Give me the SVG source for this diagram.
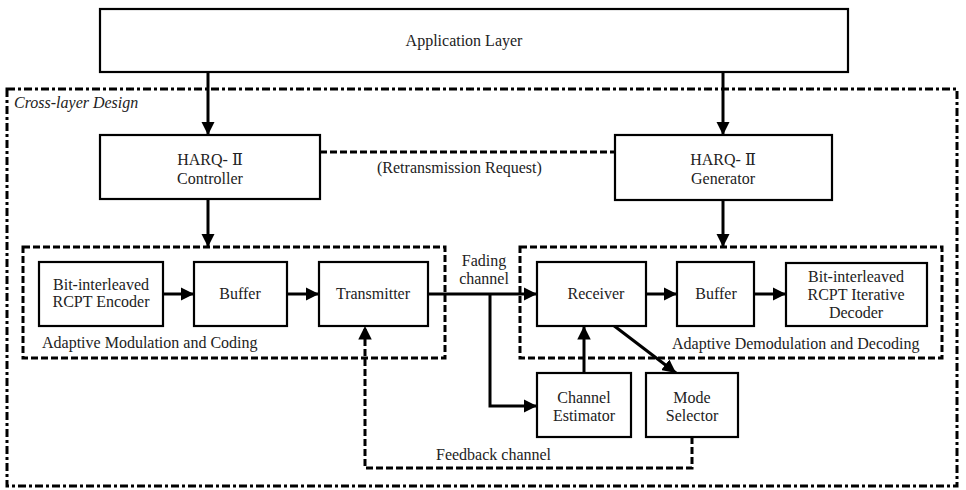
<svg xmlns="http://www.w3.org/2000/svg" width="966" height="490" viewBox="0 0 966 490">
<style>
.box{fill:#fff;stroke:#000;stroke-width:2.2}
.t,.tl{font-family:'Liberation Serif','Times New Roman','DejaVu Serif',serif;font-size:16px;fill:#222}
.t{text-anchor:middle}
.c{fill:none;stroke:#000;stroke-width:3}
.d{fill:none;stroke:#000;stroke-width:3;stroke-dasharray:7,3}
.dd{fill:none;stroke:#000;stroke-width:3;stroke-dasharray:8,3,3,3}
</style>
<defs>
<marker id="ah" viewBox="0 0 10 10" refX="10" refY="5" markerWidth="4.5" markerHeight="4.5" markerUnits="strokeWidth" orient="auto">
<path d="M0,0 L10,5 L0,10 z" fill="#000"/>
</marker>
</defs>
<g id="cross-layer">
<rect x="7" y="89" width="950" height="397" class="dd"/>
<text x="14" y="108" class="tl" font-style="italic">Cross-layer Design</text>
</g>
<g id="amc">
<rect x="23" y="247" width="422" height="111" class="d"/>
<text x="42" y="348" class="tl">Adaptive Modulation and Coding</text>
</g>
<g id="add">
<rect x="520" y="247" width="422" height="111" class="d"/>
<text x="672" y="349" class="tl">Adaptive Demodulation and Decoding</text>
</g>
<g id="connectors">
<line x1="208" y1="72" x2="208" y2="135" class="c" marker-end="url(#ah)"/>
<line x1="723" y1="72" x2="723" y2="135" class="c" marker-end="url(#ah)"/>
<line x1="208" y1="199" x2="208" y2="247" class="c" marker-end="url(#ah)"/>
<line x1="723" y1="200" x2="723" y2="247" class="c" marker-end="url(#ah)"/>
<line x1="320" y1="152" x2="615" y2="152" class="d"/>
<line x1="163" y1="294" x2="194" y2="294" class="c" marker-end="url(#ah)"/>
<line x1="287" y1="294" x2="319" y2="294" class="c" marker-end="url(#ah)"/>
<line x1="428" y1="294" x2="537" y2="294" class="c" marker-end="url(#ah)"/>
<line x1="646" y1="294" x2="677" y2="294" class="c" marker-end="url(#ah)"/>
<line x1="754" y1="294" x2="786" y2="294" class="c" marker-end="url(#ah)"/>
<polyline points="490,294 490,406 537,406" class="c" marker-end="url(#ah)"/>
<line x1="584" y1="373" x2="584" y2="326" class="c" marker-end="url(#ah)"/>
<line x1="613" y1="325" x2="676" y2="373" class="c" marker-end="url(#ah)"/>
<polyline points="692,437 692,468 365,468 365,326" class="d" marker-end="url(#ah)"/>
<text x="377" y="173" class="tl">(Retransmission Request)</text>
<text x="484" y="266" class="t">Fading</text>
<text x="484" y="284" class="t">channel</text>
<text x="436" y="460" class="tl">Feedback channel</text>
</g>
<g id="app-layer">
<rect x="100" y="9" width="748" height="63" class="box"/>
<text x="464" y="46" class="t">Application Layer</text>
</g>
<g id="harq-controller">
<rect x="100" y="135" width="220" height="64" class="box"/>
<text x="210" y="165" class="t">HARQ- Ⅱ</text>
<text x="210" y="184" class="t">Controller</text>
</g>
<g id="harq-generator">
<rect x="615" y="135" width="217" height="65" class="box"/>
<text x="723" y="165" class="t">HARQ- Ⅱ</text>
<text x="723" y="184" class="t">Generator</text>
</g>
<g id="encoder">
<rect x="39" y="262" width="124" height="64" class="box"/>
<text x="101" y="290" class="t">Bit-interleaved</text>
<text x="101" y="307" class="t">RCPT Encoder</text>
</g>
<g id="buffer-tx">
<rect x="194" y="262" width="93" height="64" class="box"/>
<text x="240" y="299" class="t">Buffer</text>
</g>
<g id="transmitter">
<rect x="319" y="262" width="109" height="64" class="box"/>
<text x="373" y="299" class="t">Transmitter</text>
</g>
<g id="receiver">
<rect x="537" y="262" width="109" height="64" class="box"/>
<text x="596" y="299" class="t">Receiver</text>
</g>
<g id="buffer-rx">
<rect x="677" y="262" width="77" height="64" class="box"/>
<text x="716" y="299" class="t">Buffer</text>
</g>
<g id="decoder">
<rect x="786" y="263" width="141" height="63" class="box"/>
<text x="856" y="282" class="t">Bit-interleaved</text>
<text x="856" y="300" class="t">RCPT Iterative</text>
<text x="856" y="318" class="t">Decoder</text>
</g>
<g id="channel-estimator">
<rect x="537" y="373" width="94" height="64" class="box"/>
<text x="584" y="403" class="t">Channel</text>
<text x="584" y="421" class="t">Estimator</text>
</g>
<g id="mode-selector">
<rect x="646" y="373" width="92" height="64" class="box"/>
<text x="692" y="403" class="t">Mode</text>
<text x="692" y="421" class="t">Selector</text>
</g>
</svg>
